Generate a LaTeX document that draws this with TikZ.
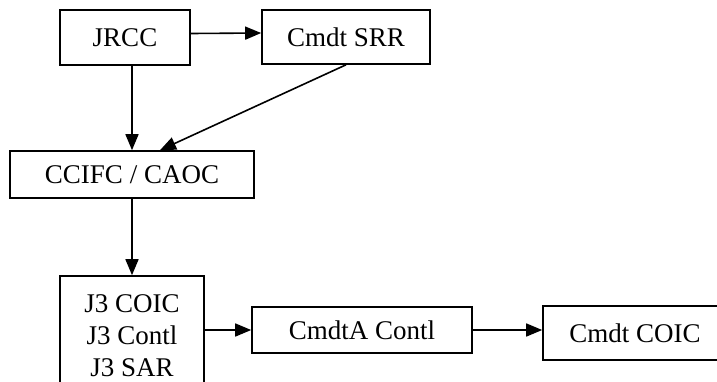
\documentclass[tikz,border=0pt]{standalone}
\usepackage{fontspec}
\setmainfont{Liberation Serif}
\usetikzlibrary{arrows.meta,positioning}

\begin{document}
\begin{tikzpicture}[x=0.5pt,y=-0.5pt,inner sep=1pt,line width=0.8pt,
box/.style={draw,align=center,font=\fontsize{13.5}{16}\selectfont},
>={Triangle[length=8pt,width=6.5pt]}]
\useasboundingbox (0,0) rectangle (717,381);
\node[box,minimum width=65pt,minimum height=27.5pt] (jrcc) at (125,37.5) {JRCC};
\node[box,minimum width=84pt,minimum height=27pt] (srr) at (346,37) {Cmdt SRR};
\node[box,minimum width=122pt,minimum height=23.5pt] (ccifc) at (132,174.5) {CCIFC / CAOC};
\node[box,minimum width=72pt,minimum height=59.5pt] (j3) at (132,335.5) {J3 COIC\\J3 Contl\\J3 SAR};
\node[box,minimum width=110pt,minimum height=23pt] (cmdta) at (362,330) {CmdtA Contl};
\node[box,minimum width=92pt,minimum height=27pt] (coic) at (635,333) {Cmdt COIC};
\path[->]
([yshift=2pt]jrcc.east) edge ([yshift=2pt]srr.west)
(jrcc.south -| ccifc.north) edge (ccifc.north)
(srr.south) edge ([xshift=14pt]ccifc.north)
(ccifc) edge (j3)
(j3.east |- cmdta) edge (cmdta)
(cmdta) edge (coic.west |- cmdta);
\end{tikzpicture}
\end{document}
